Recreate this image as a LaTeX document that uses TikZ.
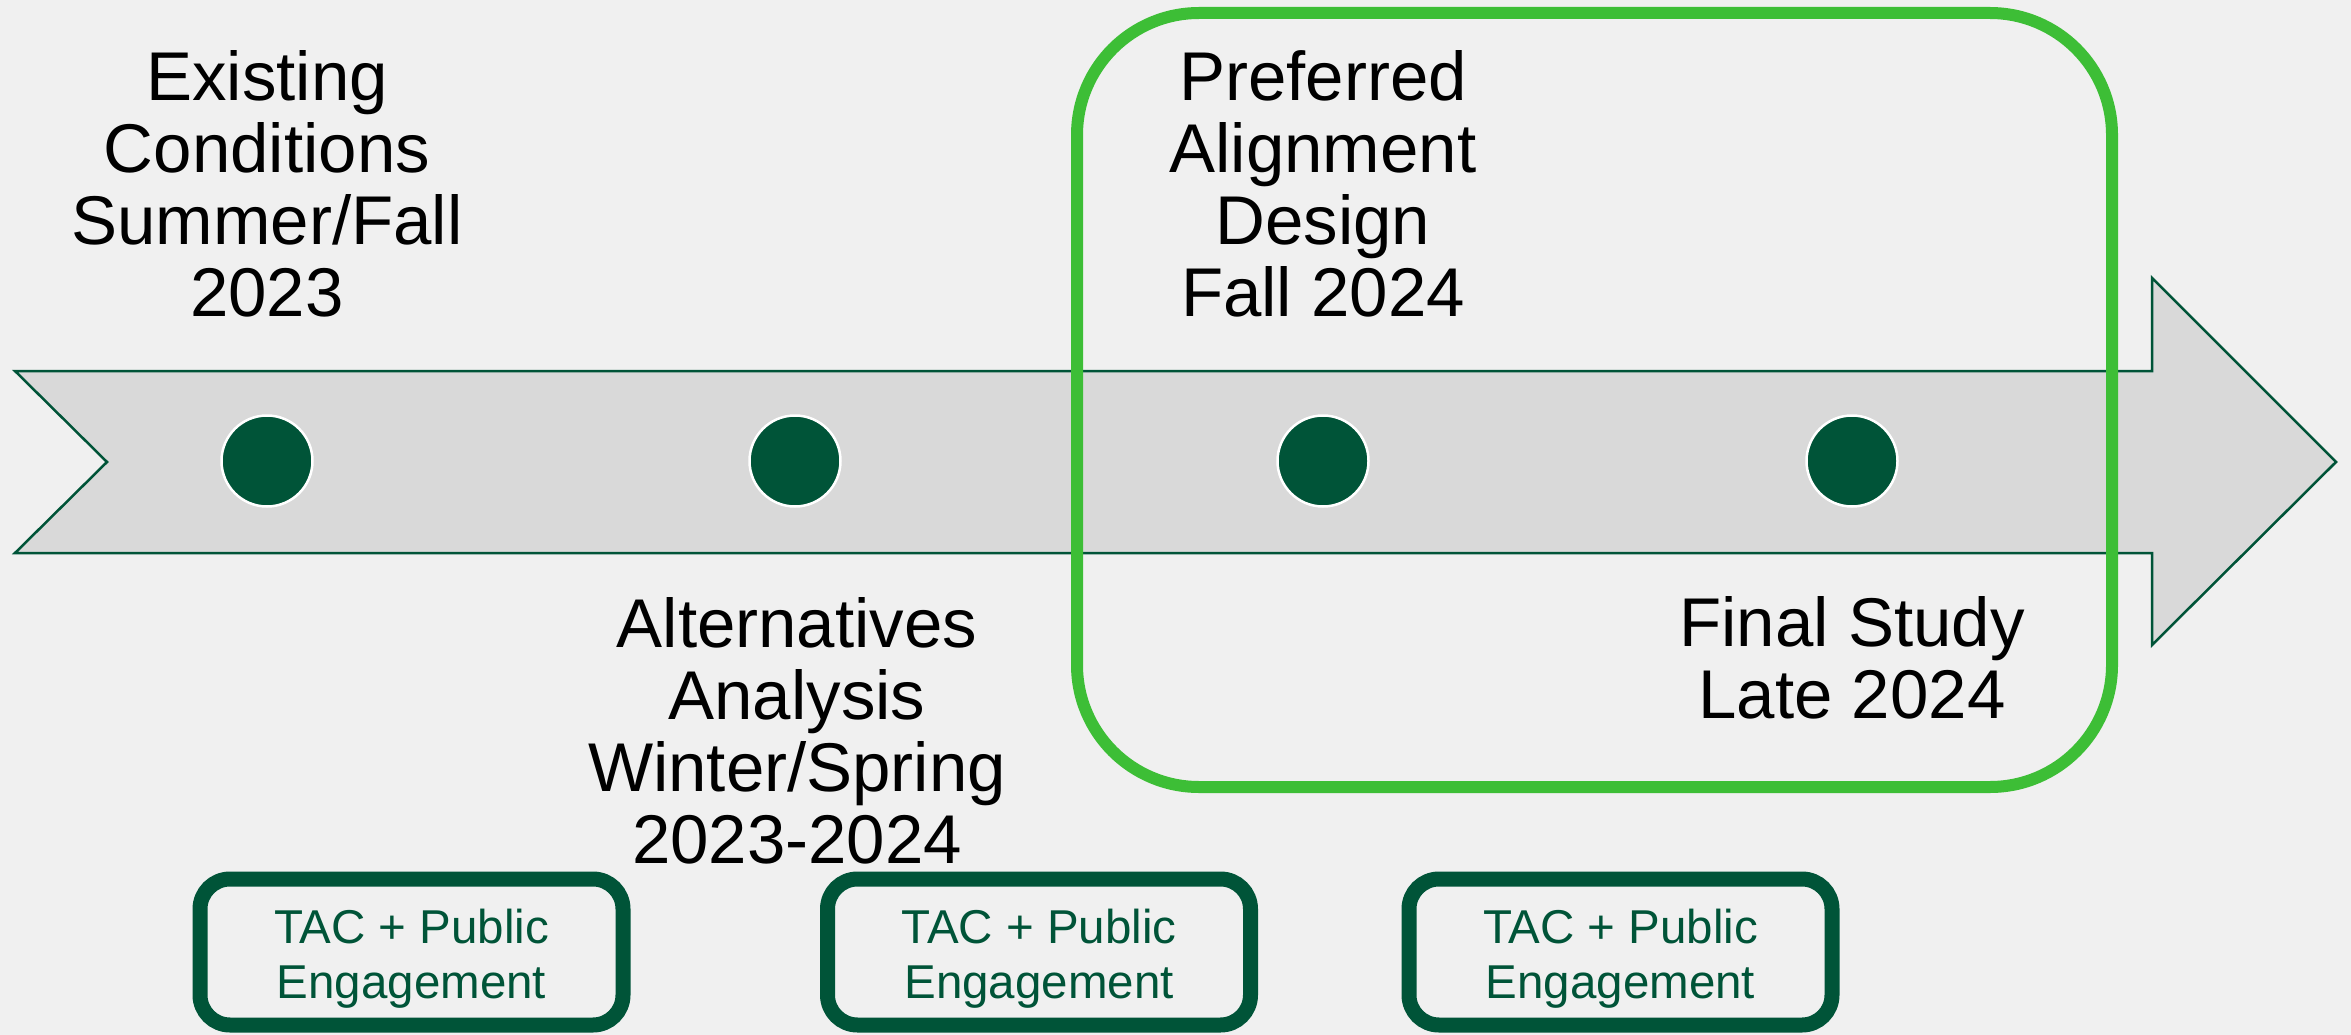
\documentclass[tikz,border=0pt]{standalone}
\usepackage{fontspec}
\setmainfont{Liberation Sans}
\definecolor{bgc}{HTML}{F0F0F0}
\definecolor{dkgreen}{HTML}{005438}
\definecolor{ltgreen}{HTML}{3DBE36}
\definecolor{arrowfill}{HTML}{D9D9D9}
\tikzset{
  bigtext/.style={inner sep=0pt, anchor=base, align=center, text=black,
    font=\fontsize{69}{72}\selectfont},
  smalltext/.style={inner sep=0pt, anchor=base, align=center, text=dkgreen,
    font=\fontsize{47.5}{55}\selectfont},
  dot/.style={circle, minimum size=91pt, inner sep=0pt, fill=dkgreen, draw=white, line width=2.5pt},
  tacbox/.style={rectangle, rounded corners=30pt, draw=dkgreen, line width=15pt,
    minimum width=423pt, minimum height=146pt, inner sep=0pt},
  arrowshape/.style={fill=arrowfill, draw=dkgreen, line width=2.5pt, line join=miter},
  frame/.style={draw=ltgreen, line width=12pt, rounded corners=122pt}
}
\begin{document}
\begin{tikzpicture}[x=1pt,y=-1pt]
\fill[bgc] (0,0) rectangle (2351,1035);
\useasboundingbox (0,0) rectangle (2351,1035);
% timeline arrow
\draw[arrowshape] (15,371) -- (2152,371) -- (2152,278) -- (2336,462) -- (2152,645)
  -- (2152,553) -- (15,553) -- (107,462) -- cycle;
% milestones
\node[dot] (d1) at (267,461) {};
\node[dot] (d2) at (795,461) {};
\node[dot] (d3) at (1323,461) {};
\node[dot] (d4) at (1852,461) {};
% highlight frame
\draw[frame] (1077,13) rectangle (2112,787);
% labels (anchor = baseline of last line)
\node[bigtext] (e) at (267,316) {Existing\\Conditions\\Summer/Fall\\2023};
\node[bigtext] (a) at (797,863) {Alternatives\\Analysis\\Winter/Spring\\2023-2024};
\node[bigtext] (p) at (1323,316) {Preferred\\Alignment\\Design\\Fall 2024};
\node[bigtext] (f) at (1852,718) {Final Study\\Late 2024};
% engagement boxes
\node[tacbox] (b1) at (411.5,952) {};
\node[tacbox] (b2) at (1039,952) {};
\node[tacbox] (b3) at (1620.5,952) {};
\node[smalltext] (t1) at (411.5,998) {TAC + Public\\Engagement};
\node[smalltext] (t2) at (1039,998) {TAC + Public\\Engagement};
\node[smalltext] (t3) at (1620.5,998) {TAC + Public\\Engagement};
\end{tikzpicture}
\end{document}
